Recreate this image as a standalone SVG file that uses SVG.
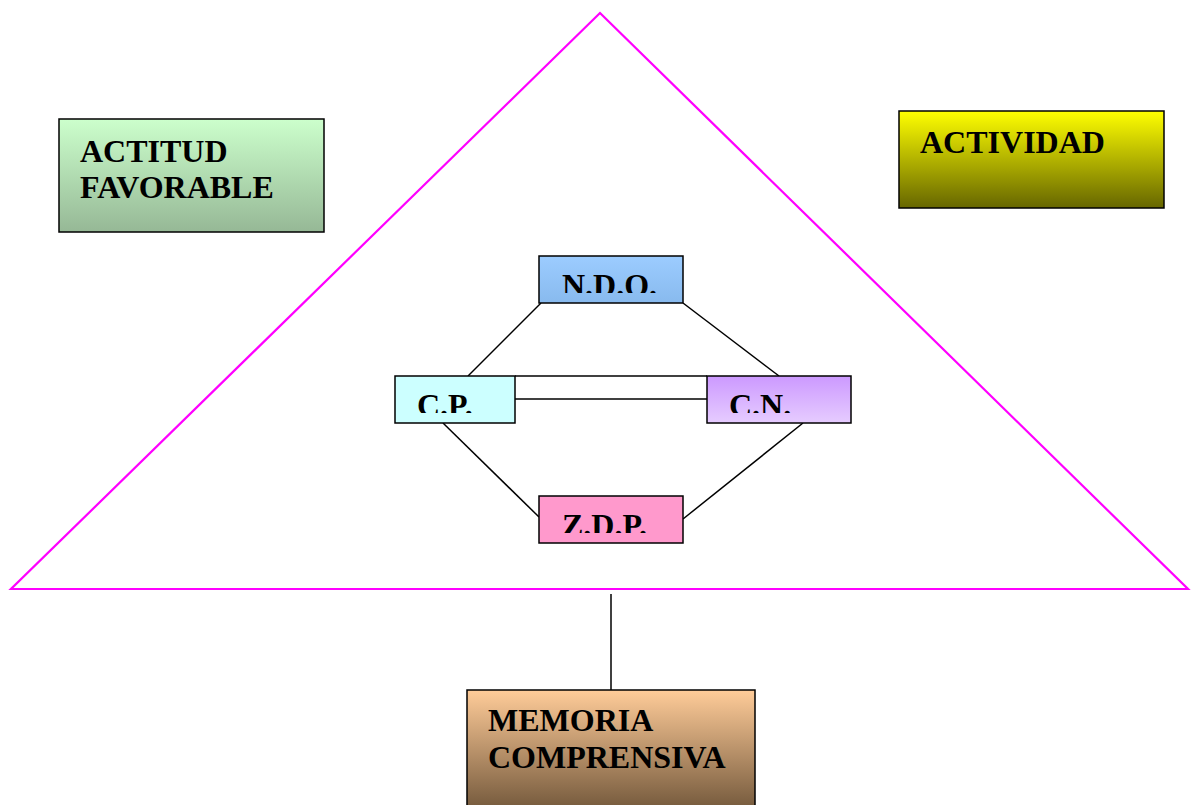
<svg xmlns="http://www.w3.org/2000/svg" width="1191" height="805" viewBox="0 0 1191 805">
<style>
.box{stroke:#000;stroke-width:1.5}
.t{font-family:"Liberation Serif","Times New Roman",serif;font-weight:bold;font-size:32px;fill:#000}
.ln{stroke:#000;stroke-width:1.5;fill:none}
</style>
<defs>
<linearGradient id="gGreen" x1="0" y1="0" x2="0" y2="1"><stop offset="0" stop-color="#CCFFCC"/><stop offset="1" stop-color="#96B896"/></linearGradient>
<linearGradient id="gYellow" x1="0" y1="0" x2="0" y2="1"><stop offset="0" stop-color="#FFFF00"/><stop offset="1" stop-color="#666600"/></linearGradient>
<linearGradient id="gBlue" x1="0" y1="0" x2="0" y2="1"><stop offset="0" stop-color="#9CCCFF"/><stop offset="1" stop-color="#88BAEE"/></linearGradient>
<linearGradient id="gPurple" x1="0" y1="0" x2="0" y2="1"><stop offset="0" stop-color="#CC99FF"/><stop offset="1" stop-color="#E6CCFF"/></linearGradient>
<linearGradient id="gBrown" x1="0" y1="0" x2="0" y2="1"><stop offset="0" stop-color="#FFCC99"/><stop offset="1" stop-color="#6E5438"/></linearGradient>
<clipPath id="cNDO"><rect x="539" y="256" width="144" height="37"/></clipPath>
<clipPath id="cCP"><rect x="395" y="376" width="120" height="37"/></clipPath>
<clipPath id="cCN"><rect x="707" y="376" width="144" height="37"/></clipPath>
<clipPath id="cZDP"><rect x="539" y="496" width="144" height="37"/></clipPath>
</defs>
<rect width="1191" height="805" fill="#fff"/>
<g id="triangle">
<polygon points="600,13 11,589 1188,589" fill="none" stroke="#FF00FF" stroke-width="2.2"/>
</g>
<g id="connectors">
<line class="ln" x1="541" y1="303" x2="468" y2="376"/>
<line class="ln" x1="683" y1="303" x2="779" y2="376"/>
<line class="ln" x1="515" y1="376" x2="707" y2="376"/>
<line class="ln" x1="515" y1="399" x2="707" y2="399"/>
<line class="ln" x1="443" y1="423" x2="539" y2="517"/>
<line class="ln" x1="803" y1="423" x2="683" y2="519"/>
<line class="ln" x1="611" y1="594" x2="611" y2="690"/>
</g>
<g id="actitud">
<rect class="box" x="59" y="119" width="265" height="113" fill="url(#gGreen)"/>
<text class="t" x="80" y="162">ACTITUD</text>
<text class="t" x="80" y="198">FAVORABLE</text>
</g>
<g id="actividad">
<rect class="box" x="899" y="111" width="265" height="97" fill="url(#gYellow)"/>
<text class="t" x="920" y="153">ACTIVIDAD</text>
</g>
<g id="ndo">
<rect class="box" x="539" y="256" width="144" height="47" fill="url(#gBlue)"/>
<text class="t" x="562" y="296" clip-path="url(#cNDO)">N.D.O.</text>
</g>
<g id="cp">
<rect class="box" x="395" y="376" width="120" height="47" fill="#CCFFFF"/>
<text class="t" x="417" y="416" clip-path="url(#cCP)">C.P.</text>
</g>
<g id="cn">
<rect class="box" x="707" y="376" width="144" height="47" fill="url(#gPurple)"/>
<text class="t" x="729" y="416" clip-path="url(#cCN)">C.N.</text>
</g>
<g id="zdp">
<rect class="box" x="539" y="496" width="144" height="47" fill="#FF99CC"/>
<text class="t" x="562" y="536" clip-path="url(#cZDP)">Z.D.P.</text>
</g>
<g id="memoria">
<rect class="box" x="467" y="690" width="288" height="125" fill="url(#gBrown)"/>
<text class="t" x="488" y="731">MEMORIA</text>
<text class="t" x="488" y="768">COMPRENSIVA</text>
</g>
</svg>
